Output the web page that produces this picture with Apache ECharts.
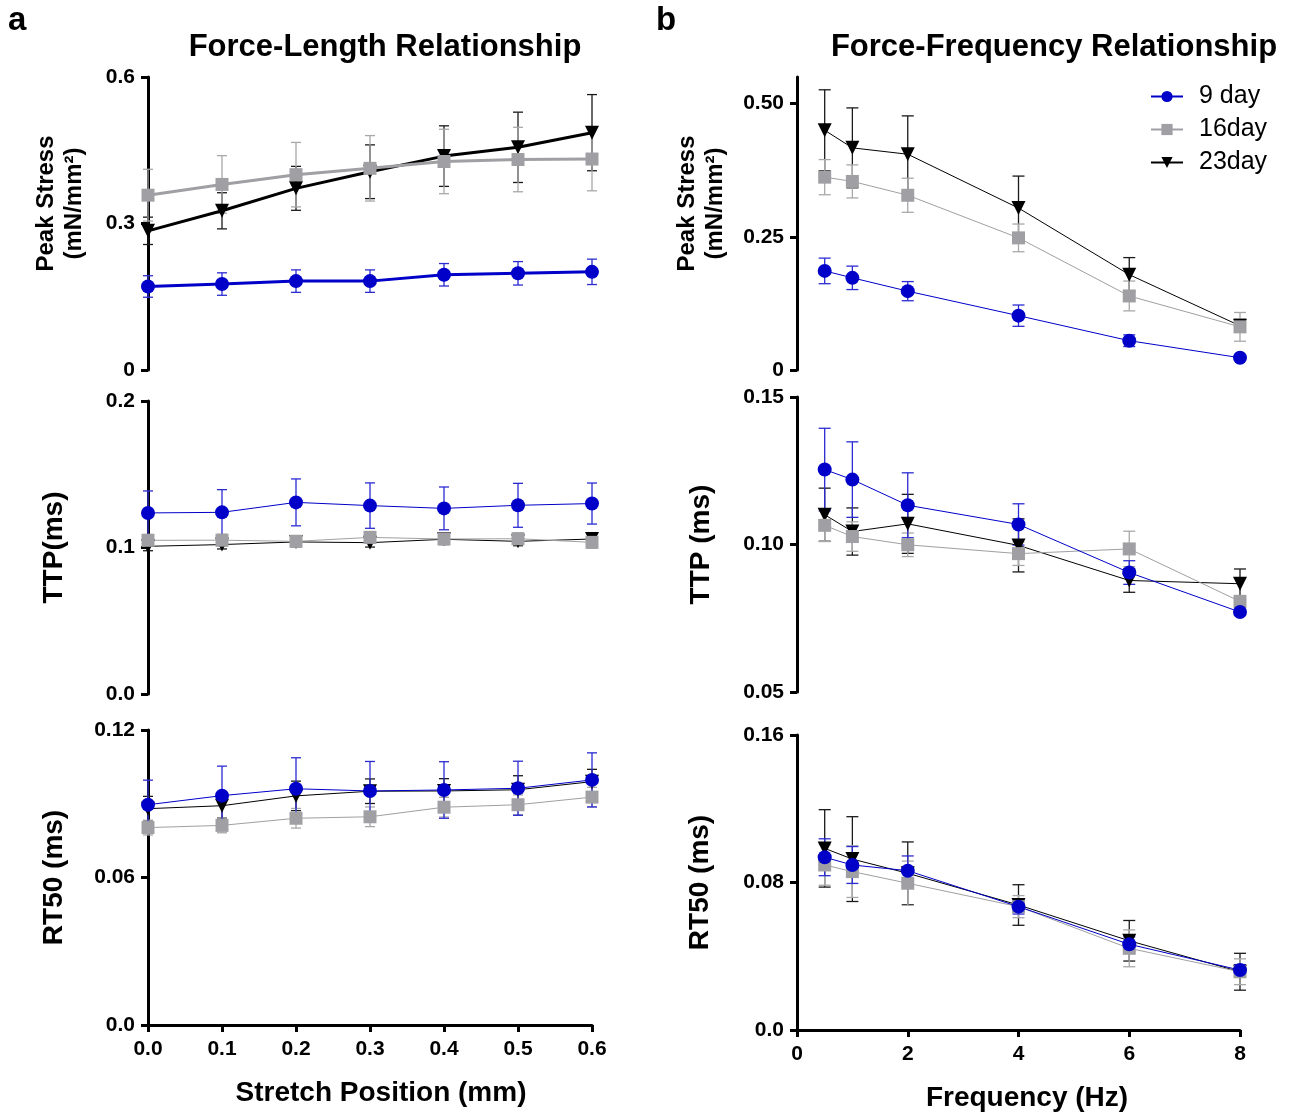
<!DOCTYPE html>
<html lang="en">
<head>
    <meta charset="UTF-8">
    <title>Force-Length / Force-Frequency</title>
    <script src="https://cdn.jsdelivr.net/npm/echarts@6/dist/echarts.min.js"></script>
    <style>
        html, body { margin: 0; padding: 0; background: #fff; }
        #chart { width: 1296px; height: 1117px; }
    </style>
</head>
<body>
    <div id="chart"></div>
    <script>
        // x values
        var stretchPos = [0, 0.1, 0.2, 0.3, 0.4, 0.5, 0.6];
        var freqHz = [0.5, 1, 2, 4, 6, 8];

        // a: force-length, peak stress (mean / sem)
        var flStress9 = [0.171, 0.176, 0.182, 0.182, 0.195, 0.198, 0.201];
        var flStress9Err = [0.022, 0.023, 0.023, 0.023, 0.023, 0.024, 0.026];
        var flStress16 = [0.358, 0.380, 0.400, 0.413, 0.427, 0.431, 0.432];
        var flStress16Err = [0.053, 0.059, 0.066, 0.067, 0.066, 0.066, 0.065];
        var flStress23 = [0.285, 0.326, 0.372, 0.406, 0.438, 0.456, 0.486];
        var flStress23Err = [0.028, 0.037, 0.045, 0.055, 0.062, 0.072, 0.078];

        // a: TTP
        var flTtp9 = [0.1236, 0.1240, 0.1308, 0.1286, 0.1267, 0.1288, 0.1300];
        var flTtp9Err = [0.015, 0.0155, 0.016, 0.0155, 0.0146, 0.015, 0.014];
        var flTtp16 = [0.1049, 0.1050, 0.1042, 0.1069, 0.1058, 0.1060, 0.1035];
        var flTtp16Err = [0.004, 0.004, 0.004, 0.004, 0.004, 0.004, 0.004];
        var flTtp23 = [0.1008, 0.1020, 0.1038, 0.1033, 0.1056, 0.1042, 0.1058];
        var flTtp23Err = [0.003, 0.003, 0.003, 0.003, 0.003, 0.003, 0.003];

        // a: RT50
        var flRt9 = [0.0896, 0.0933, 0.0961, 0.0952, 0.0956, 0.0963, 0.0997];
        var flRt9Err = [0.010, 0.012, 0.0126, 0.012, 0.0115, 0.011, 0.011];
        var flRt16 = [0.0803, 0.0812, 0.0841, 0.0847, 0.0886, 0.0896, 0.0927];
        var flRt16Err = [0.003, 0.003, 0.004, 0.004, 0.004, 0.004, 0.004];
        var flRt23 = [0.0880, 0.0892, 0.0932, 0.0951, 0.0952, 0.0957, 0.0990];
        var flRt23Err = [0.005, 0.005, 0.006, 0.005, 0.005, 0.0057, 0.005];

        // b: force-frequency, peak stress
        var ffStress9 = [0.186, 0.173, 0.148, 0.102, 0.055, 0.023];
        var ffStress9Err = [0.024, 0.022, 0.018, 0.020, 0.011, 0.004];
        var ffStress16 = [0.362, 0.354, 0.328, 0.248, 0.139, 0.081];
        var ffStress16Err = [0.033, 0.031, 0.032, 0.026, 0.028, 0.027];
        var ffStress23 = [0.450, 0.417, 0.405, 0.304, 0.179, 0.083];
        var ffStress23Err = [0.076, 0.075, 0.072, 0.060, 0.032, 0.012];

        // b: TTP
        var ffTtp9 = [0.1254, 0.1220, 0.1133, 0.1068, 0.0905, 0.0771];
        var ffTtp9Err = [0.014, 0.0128, 0.011, 0.007, 0.004, 0.001];
        var ffTtp16 = [0.1065, 0.1027, 0.0999, 0.0969, 0.0985, 0.0807];
        var ffTtp16Err = [0.0055, 0.005, 0.004, 0.004, 0.006, 0.002];
        var ffTtp23 = [0.1101, 0.1044, 0.1070, 0.0997, 0.0878, 0.0867];
        var ffTtp23Err = [0.009, 0.008, 0.010, 0.009, 0.004, 0.005];

        // b: RT50
        var ffRt9 = [0.0937, 0.0895, 0.0864, 0.0669, 0.0465, 0.0325];
        var ffRt9Err = [0.010, 0.010, 0.008, 0.004, 0.004, 0.003];
        var ffRt16 = [0.0895, 0.0859, 0.0796, 0.0669, 0.0443, 0.0316];
        var ffRt16Err = [0.011, 0.014, 0.012, 0.006, 0.010, 0.007];
        var ffRt23 = [0.0985, 0.0927, 0.0850, 0.0678, 0.0484, 0.0316];
        var ffRt23Err = [0.021, 0.023, 0.017, 0.011, 0.011, 0.010];

        // tick values and labels
        var flStressTicks = [0, 0.3, 0.6], flStressLabels = ['0', '0.3', '0.6'];
        var flTtpTicks = [0, 0.1, 0.2], flTtpLabels = ['0.0', '0.1', '0.2'];
        var flRtTicks = [0, 0.06, 0.12], flRtLabels = ['0.0', '0.06', '0.12'];
        var ffStressTicks = [0, 0.25, 0.5], ffStressLabels = ['0', '0.25', '0.50'];
        var ffTtpTicks = [0.05, 0.1, 0.15], ffTtpLabels = ['0.05', '0.10', '0.15'];
        var ffRtTicks = [0, 0.08, 0.16], ffRtLabels = ['0.0', '0.08', '0.16'];
        var stretchTicks = [0, 0.1, 0.2, 0.3, 0.4, 0.5, 0.6];
        var stretchLabels = ['0.0', '0.1', '0.2', '0.3', '0.4', '0.5', '0.6'];
        var freqTicks = [0, 2, 4, 6, 8], freqLabels = ['0', '2', '4', '6', '8'];

        var FONT = '"Liberation Sans", Arial, Helvetica, sans-serif';
        var BLUE = '#0000c8', GRAY = '#a0a0a4', BLACK = '#000000';

        var chart = echarts.init(document.getElementById('chart'), null, { renderer: 'canvas' });

        var grids = [
            { left: 148, top: 77, width: 444, height: 293 },
            { left: 148, top: 401, width: 444, height: 293 },
            { left: 148, top: 730, width: 444, height: 295 },
            { left: 797, top: 77, width: 443, height: 293 },
            { left: 797, top: 397, width: 443, height: 295 },
            { left: 797, top: 735, width: 443, height: 295 }
        ].map(function (g) { g.outerBoundsMode = 'none'; g.containLabel = false; return g; });

        function labelFor(ticks, labels) {
            return function (v) {
                for (var i = 0; i < ticks.length; i++) {
                    if (Math.abs(ticks[i] - v) < 1e-9) return labels[i];
                }
                return '';
            };
        }

        function yAxis(idx, min, max, ticks, labels, name, gap, nameSize, shift) {
            return {
                gridIndex: idx, type: 'value', min: min, max: max,
                axisLine: { show: true, lineStyle: { color: '#000', width: 3 } },
                axisTick: { show: true, length: 7, customValues: ticks, lineStyle: { color: '#000', width: 3 } },
                axisLabel: {
                    customValues: ticks, formatter: labelFor(ticks, labels), margin: 13,
                    color: '#000', fontSize: 21, fontWeight: 'bold', fontFamily: FONT
                },
                splitLine: { show: false },
                name: name, nameLocation: 'middle', nameGap: gap,
                nameTextStyle: {
                    color: '#000', fontSize: nameSize, fontWeight: 'bold', fontFamily: FONT,
                    lineHeight: nameSize + 4, align: 'center', padding: [0, 0, 0, shift || 0]
                }
            };
        }

        function xAxis(idx, min, max, ticks, labels, show, name, shift) {
            return {
                gridIndex: idx, type: 'value', min: min, max: max, show: show,
                axisLine: { show: true, onZero: false, lineStyle: { color: '#000', width: 3 } },
                axisTick: { show: true, length: 7, customValues: ticks, lineStyle: { color: '#000', width: 3 } },
                axisLabel: {
                    customValues: ticks, formatter: labelFor(ticks, labels), margin: 14,
                    color: '#000', fontSize: 21, fontWeight: 'bold', fontFamily: FONT
                },
                splitLine: { show: false },
                name: name || '', nameLocation: 'middle', nameGap: 54,
                nameTextStyle: {
                    color: '#000', fontSize: 28, fontWeight: 'bold', fontFamily: FONT,
                    padding: [0, 0, 0, shift || 0]
                }
            };
        }

        var SYMBOLS = {
            d9: { symbol: 'circle', size: 14, rotate: 0 },
            d16: { symbol: 'rect', size: 13, rotate: 0 },
            d23: { symbol: 'triangle', size: 14, rotate: 180 }
        };

        function lineSeries(idx, key, name, xs, ys, color, width) {
            var s = SYMBOLS[key];
            var out = {
                type: 'line', xAxisIndex: idx, yAxisIndex: idx,
                data: xs.map(function (x, i) { return [x, ys[i]]; }),
                symbol: s.symbol, symbolSize: s.size, symbolRotate: s.rotate,
                showAllSymbol: true,
                lineStyle: { color: color, width: width },
                itemStyle: { color: color, borderWidth: 0 },
                clip: false, silent: true
            };
            if (name) out.name = name;
            return out;
        }

        function errSeries(idx, xs, ys, es, color, half) {
            return {
                type: 'custom', xAxisIndex: idx, yAxisIndex: idx,
                data: xs.map(function (x, i) { return [x, ys[i], es[i]]; }),
                encode: { x: 0, y: 1 }, clip: false, silent: true,
                renderItem: function (params, api) {
                    var x = api.value(0), m = api.value(1), e = api.value(2);
                    var t = api.coord([x, m + e]), b = api.coord([x, m - e]);
                    var st = { stroke: color, lineWidth: 1.3 };
                    return {
                        type: 'group', children: [
                            { type: 'line', shape: { x1: t[0], y1: t[1], x2: b[0], y2: b[1] }, style: st },
                            { type: 'line', shape: { x1: t[0] - half, y1: t[1], x2: t[0] + half, y2: t[1] }, style: st },
                            { type: 'line', shape: { x1: b[0] - half, y1: b[1], x2: b[0] + half, y2: b[1] }, style: st }
                        ]
                    };
                }
            };
        }

        // one panel = 3 groups, drawn 23day, 16day, 9day (blue on top)
        function panel(idx, xs, d9, e9, d16, e16, d23, e23, width, half, named) {
            return [
                errSeries(idx, xs, d23, e23, '#1a1a1a', half),
                lineSeries(idx, 'd23', named ? '23day' : null, xs, d23, BLACK, width),
                errSeries(idx, xs, d16, e16, '#a8a8a8', half),
                lineSeries(idx, 'd16', named ? '16day' : null, xs, d16, GRAY, width),
                errSeries(idx, xs, d9, e9, '#2b2bd2', half),
                lineSeries(idx, 'd9', named ? '9 day' : null, xs, d9, BLUE, width)
            ];
        }

        var series = [].concat(
            panel(3, freqHz, ffStress9, ffStress9Err, ffStress16, ffStress16Err, ffStress23, ffStress23Err, 1, 6, true),
            panel(0, stretchPos, flStress9, flStress9Err, flStress16, flStress16Err, flStress23, flStress23Err, 3, 5, false),
            panel(1, stretchPos, flTtp9, flTtp9Err, flTtp16, flTtp16Err, flTtp23, flTtp23Err, 1, 5, false),
            panel(2, stretchPos, flRt9, flRt9Err, flRt16, flRt16Err, flRt23, flRt23Err, 1, 5, false),
            panel(4, freqHz, ffTtp9, ffTtp9Err, ffTtp16, ffTtp16Err, ffTtp23, ffTtp23Err, 1, 6, false),
            panel(5, freqHz, ffRt9, ffRt9Err, ffRt16, ffRt16Err, ffRt23, ffRt23Err, 1, 6, false)
        );

        var option = {
            animation: false,
            backgroundColor: '#fff',
            textStyle: { fontFamily: FONT },
            grid: grids,
            xAxis: [
                xAxis(0, 0, 0.6, stretchTicks, stretchLabels, false),
                xAxis(1, 0, 0.6, stretchTicks, stretchLabels, false),
                xAxis(2, 0, 0.6, stretchTicks, stretchLabels, true, 'Stretch Position (mm)', 22),
                xAxis(3, 0, 8, freqTicks, freqLabels, false),
                xAxis(4, 0, 8, freqTicks, freqLabels, false),
                xAxis(5, 0, 8, freqTicks, freqLabels, true, 'Frequency (Hz)', 17)
            ],
            yAxis: [
                yAxis(0, 0, 0.6, flStressTicks, flStressLabels, 'Peak Stress\n(mN/mm\u00b2)', 60, 24, 40),
                yAxis(1, 0, 0.2, flTtpTicks, flTtpLabels, 'TTP(ms)', 78, 28),
                yAxis(2, 0, 0.12, flRtTicks, flRtLabels, 'RT50 (ms)', 78, 28),
                yAxis(3, 0, 0.55, ffStressTicks, ffStressLabels, 'Peak Stress\n(mN/mm\u00b2)', 68, 24, 40),
                yAxis(4, 0.05, 0.15, ffTtpTicks, ffTtpLabels, 'TTP (ms)', 80, 28),
                yAxis(5, 0, 0.16, ffRtTicks, ffRtLabels, 'RT50 (ms)', 81, 28)
            ],
            legend: {
                data: ['9 day', '16day', '23day'],
                orient: 'vertical', left: 1145, top: 79,
                itemWidth: 32, itemHeight: 14, itemGap: 8,
                selectedMode: false,
                textStyle: { color: '#000', fontSize: 25, fontFamily: FONT, padding: [0, 0, 0, 11] }
            },
            graphic: [
                { type: 'text', x: 8, y: 4, style: { text: 'a', font: 'bold 33px ' + FONT, fill: '#000' } },
                { type: 'text', x: 656, y: 4, style: { text: 'b', font: 'bold 33px ' + FONT, fill: '#000' } },
                { type: 'text', x: 385, y: 47, style: { text: 'Force-Length Relationship', font: 'bold 31px ' + FONT, fill: '#000', align: 'center', verticalAlign: 'middle' } },
                { type: 'text', x: 1054, y: 47, style: { text: 'Force-Frequency Relationship', font: 'bold 31px ' + FONT, fill: '#000', align: 'center', verticalAlign: 'middle' } }
            ],
            series: series
        };

        chart.setOption(option);
    </script>
</body>
</html>
